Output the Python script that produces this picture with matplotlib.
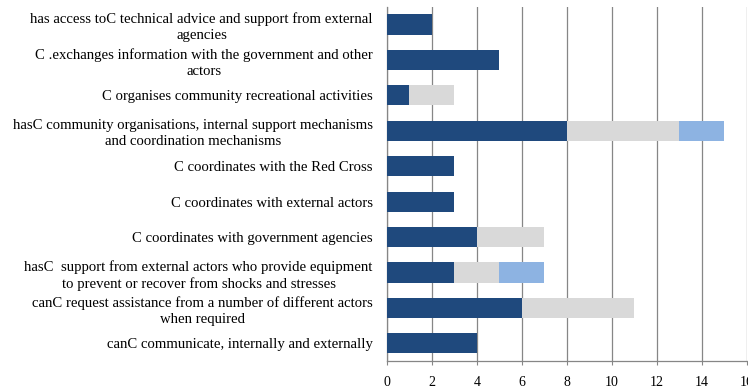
import matplotlib.pyplot as plt

plt.rcParams['font.family'] = ['Liberation Serif', 'DejaVu Serif']

labels = [
    'has access toC technical advice and support from external\nagencies',
    'C .exchanges information with the government and other\nactors',
    'C organises community recreational activities',
    'hasC community organisations, internal support mechanisms\nand coordination mechanisms',
    'C coordinates with the Red Cross',
    'C coordinates with external actors',
    'C coordinates with government agencies',
    'hasC  support from external actors who provide equipment\nto prevent or recover from shocks and stresses',
    'canC request assistance from a number of different actors\nwhen required',
    'canC communicate, internally and externally',
]
s1 = [2, 5, 1, 8, 3, 3, 4, 3, 6, 4]
s2 = [0, 0, 2, 5, 0, 0, 3, 2, 5, 0]
s3 = [0, 0, 0, 2, 0, 0, 0, 2, 0, 0]
xticks = [0, 2, 4, 6, 8, 10, 12, 14, 16]

c1 = '#1F497D'
c2 = '#D9D9D9'
c3 = '#8DB3E2'
grid = '#868686'

fig = plt.figure(figsize=(7.48, 3.9), dpi=100)
ax = fig.add_axes([0.517, 0.0744, 0.4815, 0.908])

y = list(range(len(labels)))[::-1]
h = 0.57
left2 = s1
left3 = [a + b for a, b in zip(s1, s2)]
ax.barh(y, s1, height=h, color=c1, zorder=3)
ax.barh(y, s2, height=h, left=left2, color=c2, zorder=3)
ax.barh(y, s3, height=h, left=left3, color=c3, zorder=3)

ax.set_xlim(0, 16)
ax.set_ylim(-0.5, len(labels) - 0.5)
ax.set_xticks(xticks)
ax.set_yticks(y)
ax.set_yticklabels(labels, fontsize=10.6, multialignment='center', linespacing=1.3)
ax.tick_params(axis='y', length=0, pad=10)
ax.tick_params(axis='x', length=3, color=grid, labelsize=10, pad=8)

ax.grid(axis='x', color=grid, linewidth=0.9, zorder=0)
for side in ['top', 'right']:
    ax.spines[side].set_visible(False)
for side in ['left', 'bottom']:
    ax.spines[side].set_color(grid)
    ax.spines[side].set_linewidth(0.9)

fig.savefig('out.png', dpi=100)
